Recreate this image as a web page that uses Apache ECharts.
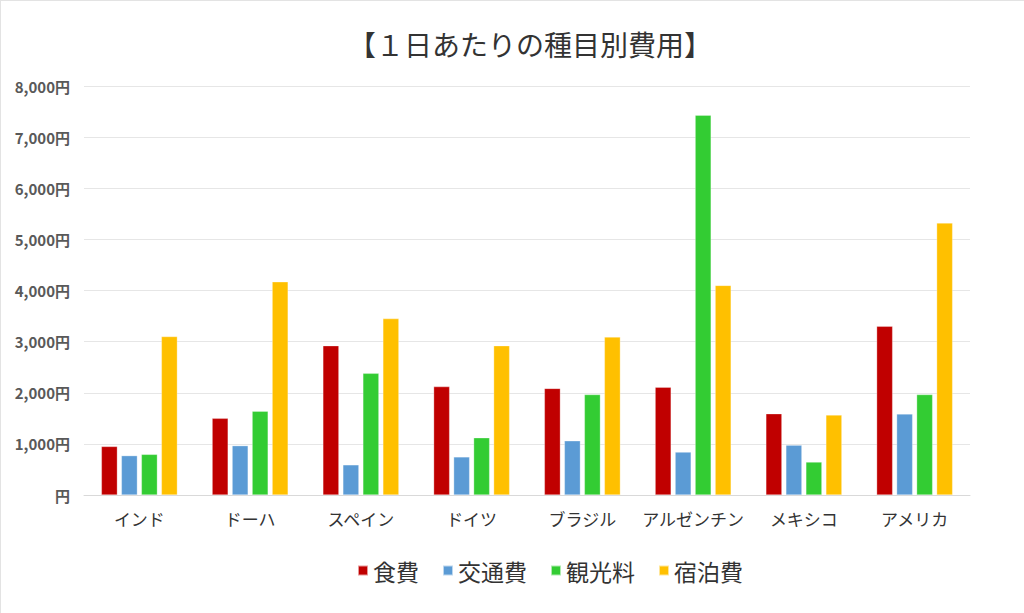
<!DOCTYPE html>
<html><head><meta charset="utf-8">
<script src="https://cdn.jsdelivr.net/npm/echarts@6/dist/echarts.min.js"></script>
<style>
html,body{margin:0;padding:0;background:#fff}
#wrap{position:relative;width:1024px;height:613px}
#c{width:1024px;height:613px}
#edge{position:absolute;left:0;top:0;width:1024px;height:613px;border-top:1px solid #e3e3e3;border-left:1px solid #e3e3e3;box-sizing:border-box;pointer-events:none}
</style>
</head><body><div id="wrap"><div id="c"></div><div id="edge"></div></div>
<script>
const categories = ['インド','ドーハ','スペイン','ドイツ','ブラジル','アルゼンチン','メキシコ','アメリカ'];
const food      = [950, 1500, 2920, 2120, 2085, 2110, 1590, 3300];
const transport = [770, 965, 590, 745, 1060, 840, 975, 1585];
const sightseeing = [795, 1640, 2380, 1120, 1965, 7430, 645, 1965];
const lodging   = [3100, 4170, 3450, 2920, 3090, 4100, 1565, 5320];
const seriesNames = ['食費','交通費','観光料','宿泊費'];
const colors = ['#C00000','#5B9BD5','#33CC33','#FFC000'];

const font = '"Noto Sans CJK JP", "Noto Sans", sans-serif';
const chart = echarts.init(document.getElementById('c'), null, {renderer:'svg'});
const data = [food, transport, sightseeing, lodging];
chart.setOption({
  animation:false,
  title:{text:'【１日あたりの種目別費用】', left:343, top:25,
    textStyle:{fontFamily:font, fontSize:28, fontWeight:'normal', color:'#333'}},
  legend:{top:554, left:352, icon:'rect', itemWidth:10, itemHeight:10, itemGap:23,
    textStyle:{fontFamily:font, fontSize:23, color:'#333'}, data:seriesNames},
  grid:{left:84, right:54, top:86, bottom:118},
  xAxis:{type:'category', data:categories,
    axisLine:{lineStyle:{color:'#d9d9d9'}}, axisTick:{show:false},
    axisLabel:{interval:0, fontFamily:font, fontSize:17, color:'#333', margin:15}},
  yAxis:{type:'value', min:0, max:8000, interval:1000,
    axisLabel:{fontFamily:font, fontSize:15, fontWeight:'bold', color:'#595959', margin:14,
      formatter:v => v===0 ? '円' : v.toLocaleString('en-US')+'円'},
    splitLine:{lineStyle:{color:'#e6e6e6'}}, axisLine:{show:false}, axisTick:{show:false}},
  series: seriesNames.map((n,i)=>({name:n, type:'bar', data:data[i], barWidth:16, barGap:'25%',
    itemStyle:{color:colors[i], borderColor:'rgba(255,255,255,0.6)', borderWidth:0.5}}))
});
</script></body></html>
